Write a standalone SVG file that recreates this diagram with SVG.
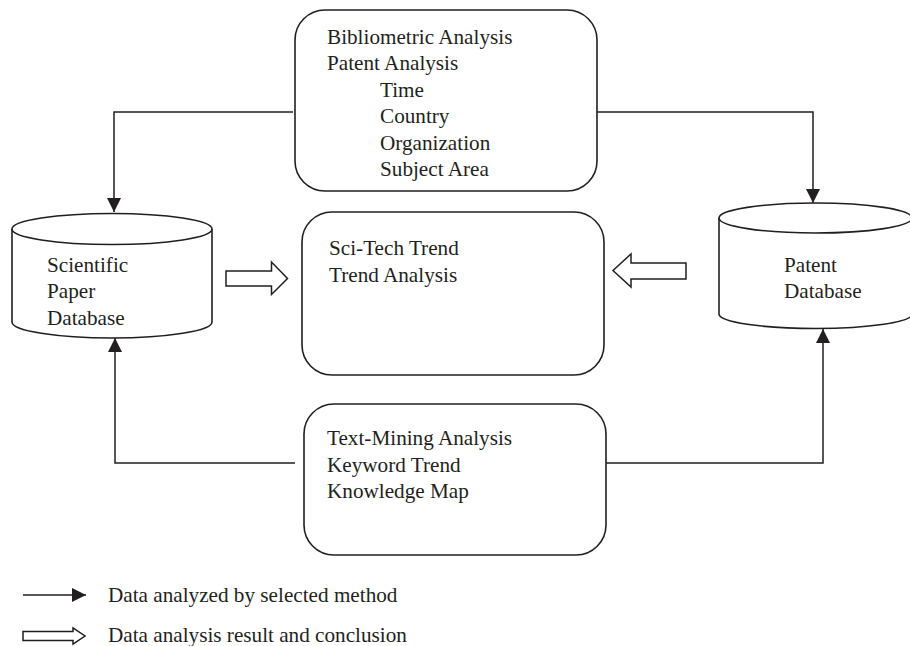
<svg xmlns="http://www.w3.org/2000/svg" width="910" height="646" viewBox="0 0 910 646">
<style>
  .box { fill: #ffffff; stroke: #231f20; stroke-width: 1.6; }
  .cyl { fill: #ffffff; stroke: #231f20; stroke-width: 1.6; }
  .line { fill: none; stroke: #231f20; stroke-width: 1.5; }
  .hollow { fill: #ffffff; stroke: #231f20; stroke-width: 1.5; stroke-linejoin: miter; }
  text { font-family: "Liberation Serif", "Times New Roman", serif; font-size: 21.2px; fill: #231f20; }
</style>
<defs>
  <marker id="arrow" markerUnits="userSpaceOnUse" markerWidth="14" markerHeight="14" viewBox="0 0 14 14" refX="14" refY="7" orient="auto">
    <path d="M0,0 L14,7 L0,14 Z" fill="#231f20"/>
  </marker>
</defs>
<rect width="910" height="646" fill="#ffffff"/>

<g id="connectors">
  <path class="line" d="M293,112 H114 V212" marker-end="url(#arrow)"/>
  <path class="line" d="M597,112 H813 V203" marker-end="url(#arrow)"/>
  <path class="line" d="M295,463 H115 V338" marker-end="url(#arrow)"/>
  <path class="line" d="M596,463 H823 V329" marker-end="url(#arrow)"/>
  <path class="hollow" d="M226,271 H271.5 V262 L287.5,278.5 L271.5,294.5 V286 H226 Z"/>
  <path class="hollow" d="M686,263 H631 V254 L613,270.5 L631,287 V279 H686 Z"/>
</g>

<g id="top-box">
  <rect class="box" x="295" y="10" width="302" height="181" rx="30" ry="30"/>
  <text x="327" y="43.5">Bibliometric Analysis</text>
  <text x="327" y="70">Patent Analysis</text>
  <text x="380" y="96.5">Time</text>
  <text x="380" y="123">Country</text>
  <text x="380" y="149.5">Organization</text>
  <text x="380" y="176">Subject Area</text>
</g>

<g id="middle-box">
  <rect class="box" x="302" y="212" width="302" height="163" rx="30" ry="30"/>
  <text x="329" y="255">Sci-Tech Trend</text>
  <text x="329" y="281.5">Trend Analysis</text>
</g>

<g id="bottom-box">
  <rect class="box" x="304" y="404" width="302" height="151" rx="30" ry="30"/>
  <text x="327" y="445">Text-Mining Analysis</text>
  <text x="327" y="471.5">Keyword Trend</text>
  <text x="327" y="498">Knowledge Map</text>
</g>

<g id="scientific-paper-db">
  <path class="cyl" d="M12,229 L12,322 A100,16 0 0 0 212,322 L212,229"/>
  <ellipse class="cyl" cx="112" cy="229" rx="100" ry="15.5"/>
  <text x="47" y="271.5">Scientific</text>
  <text x="47" y="298">Paper</text>
  <text x="47" y="325">Database</text>
</g>

<g id="patent-db">
  <path class="cyl" d="M719,218 L719,314 A96.5,14.5 0 0 0 912,314 L912,218"/>
  <ellipse class="cyl" cx="815.5" cy="218" rx="96.5" ry="15"/>
  <text x="784" y="272">Patent</text>
  <text x="784" y="298">Database</text>
</g>

<g id="legend">
  <line class="line" x1="23" y1="595" x2="86" y2="595" marker-end="url(#arrow)"/>
  <text x="108" y="601.5">Data analyzed by selected method</text>
  <path class="hollow" d="M23,631.5 H73 V628 L85,636 L73,644 V640.5 H23 Z"/>
  <text x="108" y="641.5">Data analysis result and conclusion</text>
</g>
</svg>
